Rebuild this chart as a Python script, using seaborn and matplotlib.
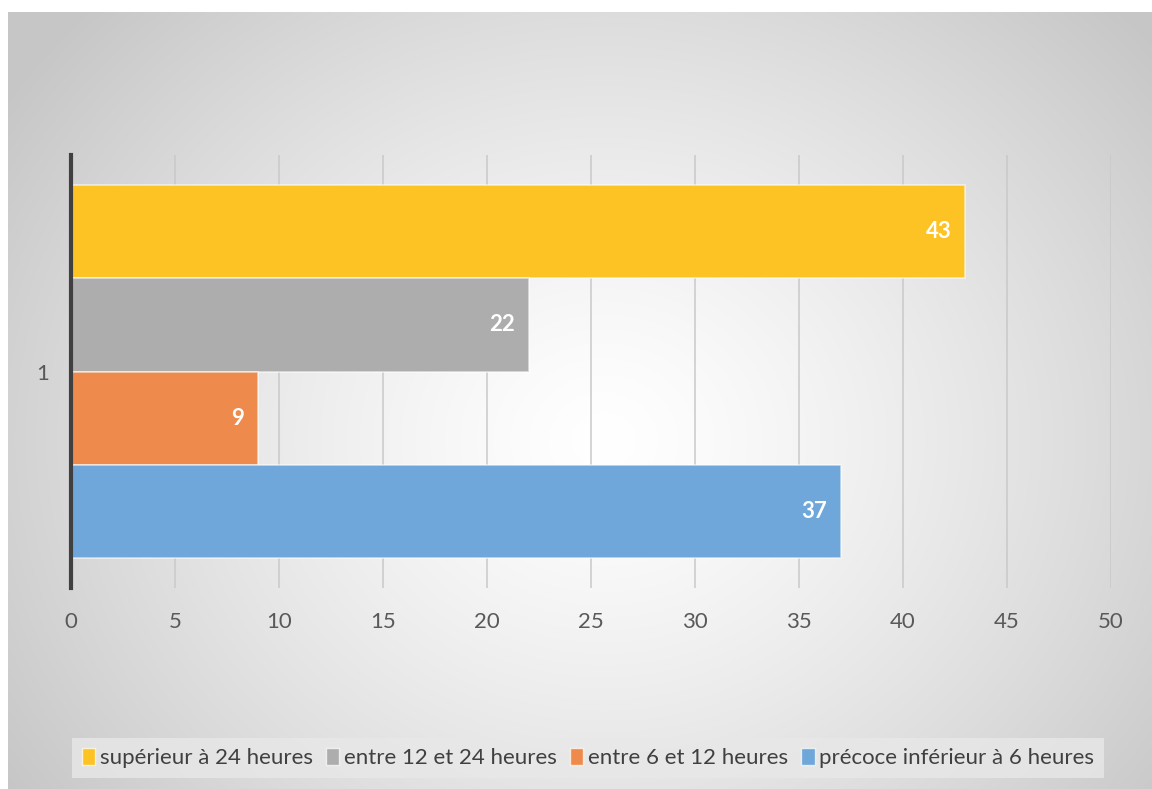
import numpy as np
import pandas as pd
import matplotlib
matplotlib.use("Agg")
import matplotlib.pyplot as plt
import seaborn as sns
from matplotlib.patches import Patch

categories = ["1"]
series = ["supérieur à 24 heures", "entre 12 et 24 heures",
          "entre 6 et 12 heures", "précoce inférieur à 6 heures"]
values = [43, 22, 9, 37]
colors = ["#FDC325", "#ADADAD", "#EE8B4C", "#6FA7DA"]
xticks = [0, 5, 10, 15, 20, 25, 30, 35, 40, 45, 50]

df = pd.DataFrame({"cat": categories * len(series), "serie": series, "val": values})

sns.set_theme(style="white")
plt.rcParams['font.family'] = ['Lato', 'DejaVu Sans']

W, H = 1152, 789
fig = plt.figure(figsize=(W / 100, H / 100), dpi=100)
fig.patch.set_facecolor("white")

# radial gradient background
bg = fig.add_axes([8 / W, 0, 1 - 8 / W, 1 - 12 / H], zorder=-10)
ny, nx = 400, 600
yy, xx = np.mgrid[0:ny, 0:nx]
cx, cy = nx * 0.52, ny * 0.55
d = np.sqrt(((xx - cx) / (nx * 0.62)) ** 2 + ((yy - cy) / (ny * 0.80)) ** 2)
d = np.clip(d, 0, 1)
val = 1.0 - (1.0 - 0.78) * d ** 1.3
img = np.dstack([val, val, val])
bg.imshow(img, aspect="auto", extent=[0, 1, 0, 1], origin="upper", interpolation="bilinear")
bg.set_axis_off()

ax = fig.add_axes([71 / W, 1 - 588 / H, (1111 - 71) / W, (588 - 155) / H])
ax.patch.set_alpha(0)

sns.barplot(data=df, y="cat", x="val", hue="serie", hue_order=series,
            palette=colors, orient="h", width=0.86, ax=ax, legend=False,
            linewidth=1.2, saturation=1)
for bar in ax.patches:
    bar.set_edgecolor((1, 1, 1, 0.6))

ax.set_xlim(0, 50)
ax.set_ylim(0.5, -0.5)
ax.set_xticks(xticks)
ax.set_xticklabels([str(t) for t in xticks])
ax.grid(axis="x", color="#c9c9c9", linewidth=1.1)
ax.set_axisbelow(True)
for s in ["top", "right", "bottom"]:
    ax.spines[s].set_visible(False)
ax.spines["left"].set_color("#404040")
ax.spines["left"].set_linewidth(3)
ax.spines["left"].set_zorder(5)
ax.tick_params(axis="x", length=0, pad=17, labelsize=16, labelcolor="#595959")
ax.tick_params(axis="y", length=0, pad=16, labelsize=16, labelcolor="#595959")
ax.set_xlabel("")
ax.set_ylabel("")

for bar in ax.patches:
    w = bar.get_width()
    yc = bar.get_y() + bar.get_height() / 2
    ax.annotate(f"{int(w)}", (w, yc), xytext=(-10, 0), textcoords="offset points",
                ha="right", va="center", color="white", fontsize=16, fontweight="bold")

handles = [Patch(facecolor=c, edgecolor=(1, 1, 1, 0.7), linewidth=1) for c in colors]
leg = fig.legend(handles, series, loc="center", bbox_to_anchor=(588 / W, 1 - 758 / H),
                 ncol=4, frameon=True, fontsize=16, handlelength=0.6, handleheight=0.8,
                 handletextpad=0.2, columnspacing=0.6, borderpad=0.45,
                 fancybox=False)
leg.get_frame().set_facecolor("#e8e8e8")
leg.get_frame().set_alpha(0.8)
leg.get_frame().set_edgecolor("none")
for t in leg.get_texts():
    t.set_color("#404040")

fig.savefig("out.png", dpi=100)
